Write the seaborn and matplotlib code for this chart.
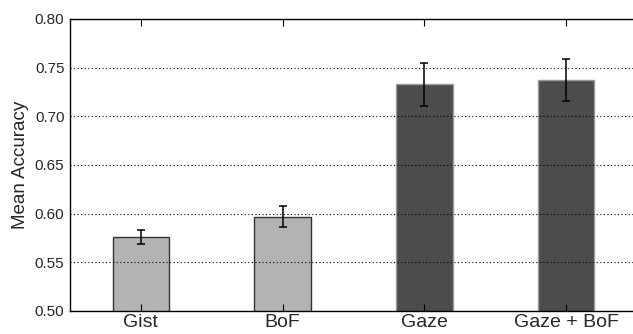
import matplotlib
matplotlib.use("Agg")
import matplotlib.pyplot as plt
import seaborn as sns
import pandas as pd

categories = ["Gist", "BoF", "Gaze", "Gaze + BoF"]
mean_accuracy = [0.576, 0.597, 0.733, 0.737]
errors = [0.007, 0.0105, 0.022, 0.0215]
bar_colors = ["#b3b3b3", "#b3b3b3", "#4c4c4c", "#4c4c4c"]
edge_colors = ["#333333", "#333333", "#9a9a9a", "#9a9a9a"]
yticks = [0.50, 0.55, 0.60, 0.65, 0.70, 0.75, 0.80]

sns.set_style("white")
plt.rcParams["font.family"] = ["Liberation Sans", "DejaVu Sans"]

df = pd.DataFrame({"method": categories, "acc": mean_accuracy})

fig = plt.figure(figsize=(6.33, 3.34), dpi=100)
ax = fig.add_axes([70 / 633, 23 / 334, 567 / 633, 292 / 334])

sns.barplot(data=df, x="method", y="acc", hue="method", palette=bar_colors,
            width=0.4, legend=False, ax=ax, errorbar=None, saturation=1)
for patch, ec in zip(ax.patches, edge_colors):
    patch.set_edgecolor(ec)
    patch.set_linewidth(1.0)

ax.errorbar(categories, mean_accuracy, yerr=errors, fmt="none", ecolor="black",
            elinewidth=1.1, capsize=2.6, capthick=1.1, zorder=5)

ax.set_xlim(-0.5, 3.5)
ax.set_ylim(0.50, 0.80)
ax.set_yticks(yticks)
ax.set_yticklabels([f"{v:.2f}" for v in yticks], fontsize=11)
ax.set_xlabel("")
ax.set_ylabel("Mean Accuracy", fontsize=13.5)
ax.tick_params(axis="x", labelsize=14, direction="in", length=5, top=True, bottom=True,
               color="black", width=0.8, pad=2)
ax.tick_params(axis="y", direction="in", length=0, pad=4)
ax.yaxis.grid(True, linestyle=(0, (1, 2.2)), color="black", linewidth=0.8)
ax.set_axisbelow(False)
for s in ax.spines.values():
    s.set_color("black")
    s.set_linewidth(1.0)
    s.set_zorder(6)

fig.savefig("out.png", dpi=100)
